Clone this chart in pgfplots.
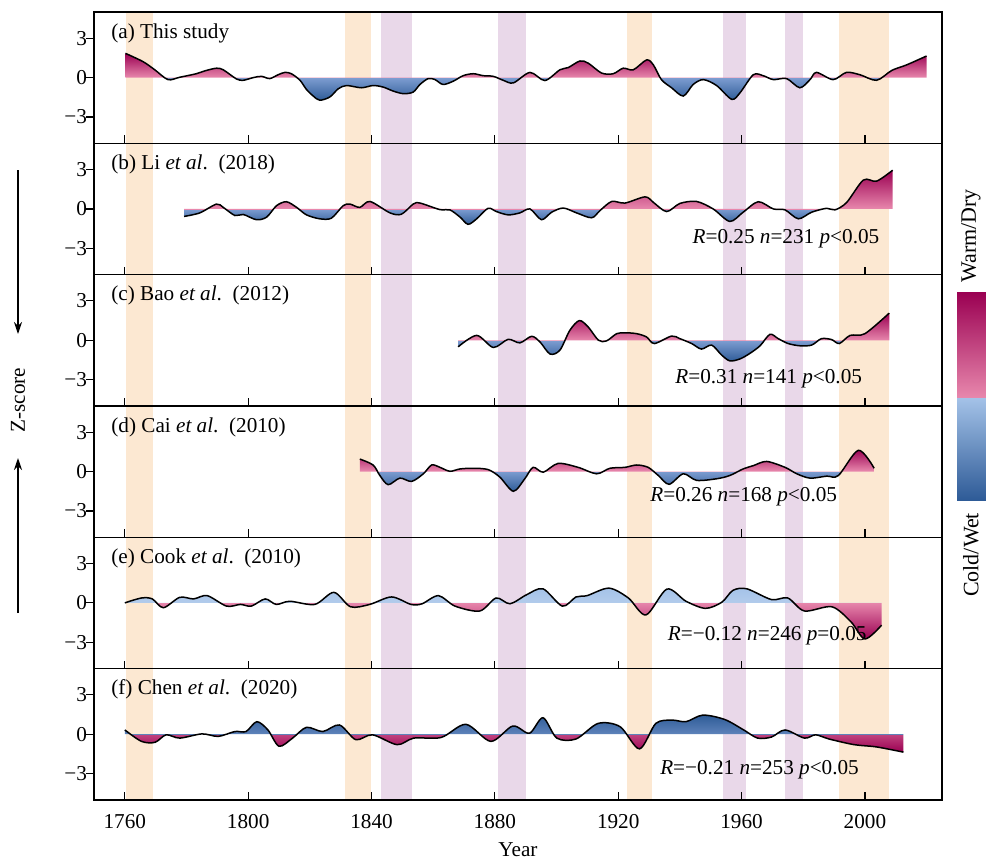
\documentclass[border=0pt]{standalone}
\usepackage{fontspec}
\setmainfont{Liberation Serif}
\usepackage{pgfplots}
\pgfplotsset{compat=1.18}
\usepackage{pgfplotstable}
\usetikzlibrary{arrows.meta}

\definecolor{magD}{HTML}{9A0052}
\definecolor{pinkL}{HTML}{E888AD}
\definecolor{blueL}{HTML}{A4C2E8}
\definecolor{blueZ}{HTML}{7D9DD1}
\definecolor{blueD}{HTML}{2E5B97}
\definecolor{peach}{HTML}{FCE8D2}
\definecolor{lilac}{HTML}{E9D8E9}
\colorlet{blueE}{blueL!85!white}
\colorlet{blueF}{blueZ!60!blueD}
\colorlet{pinkF}{pinkL!50!magD}
\newcommand\fnt{\fontsize{10.6}{12.7}\selectfont}

% value-coloured fills: the path box spans 25bp..75bp, zero level placed by each series' min/max
\pgfdeclareverticalshading{shA}{100bp}{color(0bp)=(blueD); color(25bp)=(blueD); color(49.09bp)=(blueZ); color(49.1bp)=(pinkL); color(75bp)=(magD); color(100bp)=(magD)}
\pgfdeclareverticalshading{shB}{100bp}{color(0bp)=(blueD); color(25bp)=(blueD); color(39.19bp)=(blueZ); color(39.2bp)=(pinkL); color(75bp)=(magD); color(100bp)=(magD)}
\pgfdeclareverticalshading{shC}{100bp}{color(0bp)=(blueD); color(25bp)=(blueD); color(46.56bp)=(blueZ); color(46.57bp)=(pinkL); color(75bp)=(magD); color(100bp)=(magD)}
\pgfdeclareverticalshading{shD}{100bp}{color(0bp)=(blueD); color(25bp)=(blueD); color(49.03bp)=(blueZ); color(49.04bp)=(pinkL); color(75bp)=(magD); color(100bp)=(magD)}
\pgfdeclareverticalshading{shE}{100bp}{color(0bp)=(magD); color(25bp)=(magD); color(60.52bp)=(pinkL); color(60.53bp)=(blueE); color(75bp)=(blueL); color(100bp)=(blueL)}
\pgfdeclareverticalshading{shF}{100bp}{color(0bp)=(magD); color(25bp)=(magD); color(49.28bp)=(pinkF); color(49.29bp)=(blueF); color(75bp)=(blueD); color(100bp)=(blueD)}

% (a) This study
\pgfplotstableread{
x y
1760.2 1.85
1765.9 1.22
1769.7 0.6
1774 -0.15
1777.8 0.03
1783.2 0.3
1786 0.52
1789.7 0.72
1791.9 0.6
1796.2 -0.1
1798.4 -0.2
1801.6 0
1804.3 0.1
1807 -0.07
1809.7 0.22
1811.9 0.4
1814 0.3
1816.8 -0.2
1818.9 -0.9
1821.1 -1.4
1823.2 -1.72
1826.5 -1.47
1829.2 -0.85
1831.9 -0.6
1836.7 -0.77
1840.5 -0.6
1843.8 -0.72
1847 -1.02
1850.3 -1.22
1853.5 -1.1
1855.7 -0.52
1858.4 -0.07
1860.6 -0.15
1863.2 -0.52
1866.5 -0.27
1869.7 0.15
1873 0.3
1876.2 0.15
1879.5 0.1
1882.7 -0.2
1886 -0.4
1891.4 0.4
1896.2 -0.22
1901.1 0.6
1903.8 0.77
1907.6 1.27
1910.3 1.1
1914.6 0.35
1918.4 0.3
1921.6 0.72
1924.9 0.6
1929.2 1.35
1931.4 0.97
1934 -0.15
1937.3 -0.77
1941.1 -1.4
1944.3 -0.52
1947.6 -0.15
1951.9 -0.6
1956.8 -1.65
1959.5 -1.15
1963.8 0.22
1967 0.15
1970.3 -0.15
1974.6 -0.07
1978.9 -0.77
1982.2 -0.15
1984.3 0.4
1989.7 -0.15
1994 0.4
1998.4 0.22
2003.8 -0.2
2008.7 0.55
2013.5 0.97
2020 1.65
}\dA

% (b) Li et al. (2018)
\pgfplotstableread{
x y
1779.2 -0.57
1784.3 -0.3
1789.7 0.37
1791.9 0.12
1795.7 -0.5
1798.4 -0.42
1802.7 -0.82
1806 -0.62
1809.2 0.25
1812.4 0.55
1815.7 0.12
1818.9 -0.45
1823.2 -0.75
1827 -0.7
1830.8 0.25
1833 0.37
1836.2 0.12
1839.5 0.57
1846 -0.3
1849.7 -0.4
1853.5 0.37
1855.7 0.45
1862.2 -0.05
1865.4 -0.07
1868.7 -0.62
1871.3 -1.17
1874.1 -0.75
1877.8 0.05
1880.5 -0.2
1884.3 -0.45
1888.1 -0.3
1891.4 0
1895.1 -0.82
1898.4 -0.25
1902.2 0.07
1906.5 -0.3
1911.4 -0.67
1914.1 -0.12
1917.9 0.57
1922.2 0.45
1928.7 0.92
1931.4 0.5
1935.7 -0.2
1940 0.42
1945.4 0.57
1950.8 0
1956.2 -0.95
1960.5 -0.25
1965.4 0.55
1970.3 0
1974.1 -0.07
1978.4 -0.75
1982.7 -0.25
1987.6 0.05
1990.3 -0.07
1994.1 0.5
1999.5 2.2
2003.8 2.12
2009 2.95
}\dB

% (c) Bao et al. (2012)
\pgfplotstableread{
x y
1868.1 -0.5
1874.1 0.37
1879.5 -0.55
1884.3 0.07
1888.1 -0.2
1891.9 0.3
1894.6 -0.12
1897.9 -1.05
1901.1 -0.75
1904.3 0.75
1907.4 1.5
1910.3 1.0
1913.6 0
1916.2 -0.05
1919.5 0.5
1922.2 0.57
1926 0.5
1929.2 0.25
1931.7 -0.25
1937.3 0.32
1940 0.12
1943.8 -0.25
1947 -0.67
1950.3 -0.37
1953.5 -1.12
1956.2 -1.57
1959.5 -1.42
1962.7 -1.0
1966 -0.42
1969.2 0.45
1971.9 0.12
1975.1 -0.25
1978.9 -0.42
1982.7 -0.37
1985.9 0.12
1989.2 0.05
1991.7 -0.25
1995.2 0.37
2000 0.5
2007.9 2.07
}\dC

% (d) Cai et al. (2010)
\pgfplotstableread{
x y
1836.2 0.95
1840.5 0.5
1842.7 -0.3
1845.4 -1.0
1849.2 -0.5
1853 -0.75
1856.8 -0.17
1859.5 0.5
1862.2 0.32
1865.4 0.02
1868.7 0.2
1873 0.25
1877.8 0.15
1881.6 -0.42
1886 -1.5
1889.7 -0.55
1892.4 0.32
1895.7 -0.05
1900.5 0.62
1907 0.32
1913 -0.17
1917.3 0.25
1922.2 0.32
1926 0.5
1929.7 0.32
1933 -0.3
1936.5 -0.97
1941.1 -0.17
1945.4 -0.67
1951.9 -0.55
1956.2 -0.3
1960.5 0.2
1963.8 0.45
1968.1 0.77
1974.1 0.32
1977.9 -0.17
1982.2 -0.5
1987.6 -0.35
1991.4 -0.3
1997.9 1.62
2003 0.25
}\dD

% (e) Cook et al. (2010)
\pgfplotstableread{
x y
1760 0
1765.4 0.37
1768.9 0.3
1772.5 -0.37
1777.8 0.42
1782.3 0.3
1786.7 0.55
1793 -0.25
1797.5 -0.12
1801 -0.25
1805.5 0.3
1809.1 -0.12
1813.5 0.12
1821.6 -0.12
1827.8 0.8
1833.2 -0.3
1839.4 -0.12
1846.5 0.45
1852.8 -0.12
1856.4 -0.07
1861.7 0.55
1867.1 -0.25
1875.1 -0.62
1880.4 0.37
1884.9 -0.07
1890.3 0.62
1895.6 1.07
1901.9 -0.25
1906.3 0.45
1909.9 0.55
1917 1.12
1923.3 0.37
1929 -0.92
1935.8 1.05
1942 0.12
1948.3 -0.42
1953.6 0.05
1957.2 0.95
1961.7 1.07
1969.7 0.25
1975 0.37
1980.4 -0.62
1989.3 -0.3
1995.5 -1.45
2000 -2.75
2005.4 -1.7
}\dE

% (f) Chen et al. (2020)
\pgfplotstableread{
x y
1760 0.32
1765.4 -0.55
1769.8 -0.62
1773.4 -0.05
1777.8 -0.3
1785 0.02
1790.3 -0.17
1795.7 0.2
1799.3 0.2
1802.8 0.95
1806.4 0.32
1810 -0.92
1814.4 -0.3
1818.9 0.52
1824.2 0.2
1829.6 0.7
1834.9 -0.42
1840.3 -0.05
1848.3 -0.8
1853.7 -0.3
1862.6 -0.25
1870.6 0.75
1878.7 -0.55
1885.8 0.62
1891.2 0.07
1895.6 1.25
1900.1 -0.3
1906.3 -0.37
1913.5 0.82
1920.6 0.57
1926.9 -1.12
1932.2 0.82
1937.5 1.07
1942 0.95
1947.4 1.45
1954.5 1.12
1960.7 0.32
1965.2 -0.3
1969.7 -0.22
1974.1 0.32
1980.4 -0.3
1984 -0.05
1988.4 -0.37
1996.5 -0.8
2003.7 -0.97
2012.5 -1.37
}\dF

\pgfplotsset{
  panel/.style={
    width=424pt, height=65.65pt, scale only axis,
    anchor=north west, axis on top,
    xmin=1750, xmax=2025, ymin=-5, ymax=5,
    xtick={1760,1800,...,2000}, xticklabels={},
    ytick={-3,0,3}, yticklabels={−3,0,3},
    xtick pos=left, ytick pos=left,
    major tick length=4pt,
    tick style={black, line width=0.6pt},
    ytick style={xshift=-4pt},
    axis line style={line width=0.7pt},
    tick label style={font=\fnt},
    xticklabel style={yshift=-4pt},
    label style={font=\fnt},
    /pgf/number format/1000 sep={},
    /pgf/number format/assume math mode=true,
  },
  curve/.style={black, line width=0.75pt, smooth},
}

\newcommand{\bands}{%
  \addplot[fill=peach, draw=none] coordinates {(1760.5,-5) (1760.5,5) (1769,5) (1769,-5)} --cycle;
  \addplot[fill=peach, draw=none] coordinates {(1831.4,-5) (1831.4,5) (1839.7,5) (1839.7,-5)} --cycle;
  \addplot[fill=peach, draw=none] coordinates {(1923,-5) (1923,5) (1931,5) (1931,-5)} --cycle;
  \addplot[fill=peach, draw=none] coordinates {(1991.6,-5) (1991.6,5) (2007.7,5) (2007.7,-5)} --cycle;
  \addplot[fill=lilac, draw=none] coordinates {(1843,-5) (1843,5) (1853,5) (1853,-5)} --cycle;
  \addplot[fill=lilac, draw=none] coordinates {(1881,-5) (1881,5) (1890,5) (1890,-5)} --cycle;
  \addplot[fill=lilac, draw=none] coordinates {(1954,-5) (1954,5) (1961.5,5) (1961.5,-5)} --cycle;
  \addplot[fill=lilac, draw=none] coordinates {(1974,-5) (1974,5) (1980,5) (1980,-5)} --cycle;
}

% #1 table, #2 shading
\newcommand{\series}[2]{%
  \addplot[draw=none, smooth, shading=#2] table {#1} \closedcycle;
  \addplot[curve] table {#1};
}

\begin{document}
\begin{tikzpicture}[font=\fnt]
\useasboundingbox (0,0) rectangle (493pt,-431pt);

\begin{axis}[panel, at={(47pt,-6pt)}]
\bands
\series{\dA}{shA}
\node[anchor=west, inner sep=0] at (rel axis cs:0.02,0.84) {(a) This study};
\end{axis}

\begin{axis}[panel, at={(47pt,-71.65pt)}]
\bands
\series{\dB}{shB}
\node[anchor=west, inner sep=0] at (rel axis cs:0.02,0.84) {(b) Li \textit{et al}.~~(2018)};
\node[anchor=west, inner sep=0] at (axis cs:1944,-2.3) {\textit{R}=0.25 \textit{n}=231 \textit{p}<0.05};
\end{axis}

\begin{axis}[panel, at={(47pt,-137.3pt)}]
\bands
\series{\dC}{shC}
\node[anchor=west, inner sep=0] at (rel axis cs:0.02,0.84) {(c) Bao \textit{et al}.~~(2012)};
\node[anchor=west, inner sep=0] at (axis cs:1938.4,-2.95) {\textit{R}=0.31 \textit{n}=141 \textit{p}<0.05};
\end{axis}

\begin{axis}[panel, at={(47pt,-202.95pt)}]
\bands
\series{\dD}{shD}
\node[anchor=west, inner sep=0] at (rel axis cs:0.02,0.84) {(d) Cai \textit{et al}.~~(2010)};
\node[anchor=west, inner sep=0] at (axis cs:1930.3,-1.9) {\textit{R}=0.26 \textit{n}=168 \textit{p}<0.05};
\end{axis}

\begin{axis}[panel, at={(47pt,-268.6pt)}]
\bands
\series{\dE}{shE}
\node[anchor=west, inner sep=0] at (rel axis cs:0.02,0.84) {(e) Cook \textit{et al}.~~(2010)};
\node[anchor=west, inner sep=0] at (axis cs:1936,-2.5) {\textit{R}=−0.12 \textit{n}=246 \textit{p}=0.05};
\end{axis}

\begin{axis}[panel, at={(47pt,-334.25pt)}, xticklabels={1760,1800,1840,1880,1920,1960,2000}, xlabel={Year}]
\bands
\series{\dF}{shF}
\node[anchor=west, inner sep=0] at (rel axis cs:0.02,0.84) {(f) Chen \textit{et al}.~~(2020)};
\node[anchor=west, inner sep=0] at (axis cs:1933.5,-2.7) {\textit{R}=−0.21 \textit{n}=253 \textit{p}<0.05};
\end{axis}

% side annotations
\node[rotate=90] at (9pt,-200pt) {Z-score};
\draw[-{Stealth[length=6pt,width=4pt]}, line width=0.6pt] (9pt,-85pt) -- (9pt,-167pt);
\draw[-{Stealth[length=6pt,width=4pt]}, line width=0.6pt] (9pt,-306.5pt) -- (9pt,-229pt);

% colour key
\shade[top color=magD, bottom color=pinkL] (478.5pt,-146pt) rectangle (493pt,-199pt);
\shade[top color=blueL, bottom color=blueD] (478.5pt,-199pt) rectangle (493pt,-250pt);
\node[rotate=90, inner sep=0, font=\fontsize{11}{13}\selectfont] at (485.5pt,-118pt) {Warm/Dry};
\node[rotate=90, inner sep=0, font=\fontsize{11}{13}\selectfont] at (485.5pt,-277.5pt) {Cold/Wet};
\end{tikzpicture}
\end{document}
